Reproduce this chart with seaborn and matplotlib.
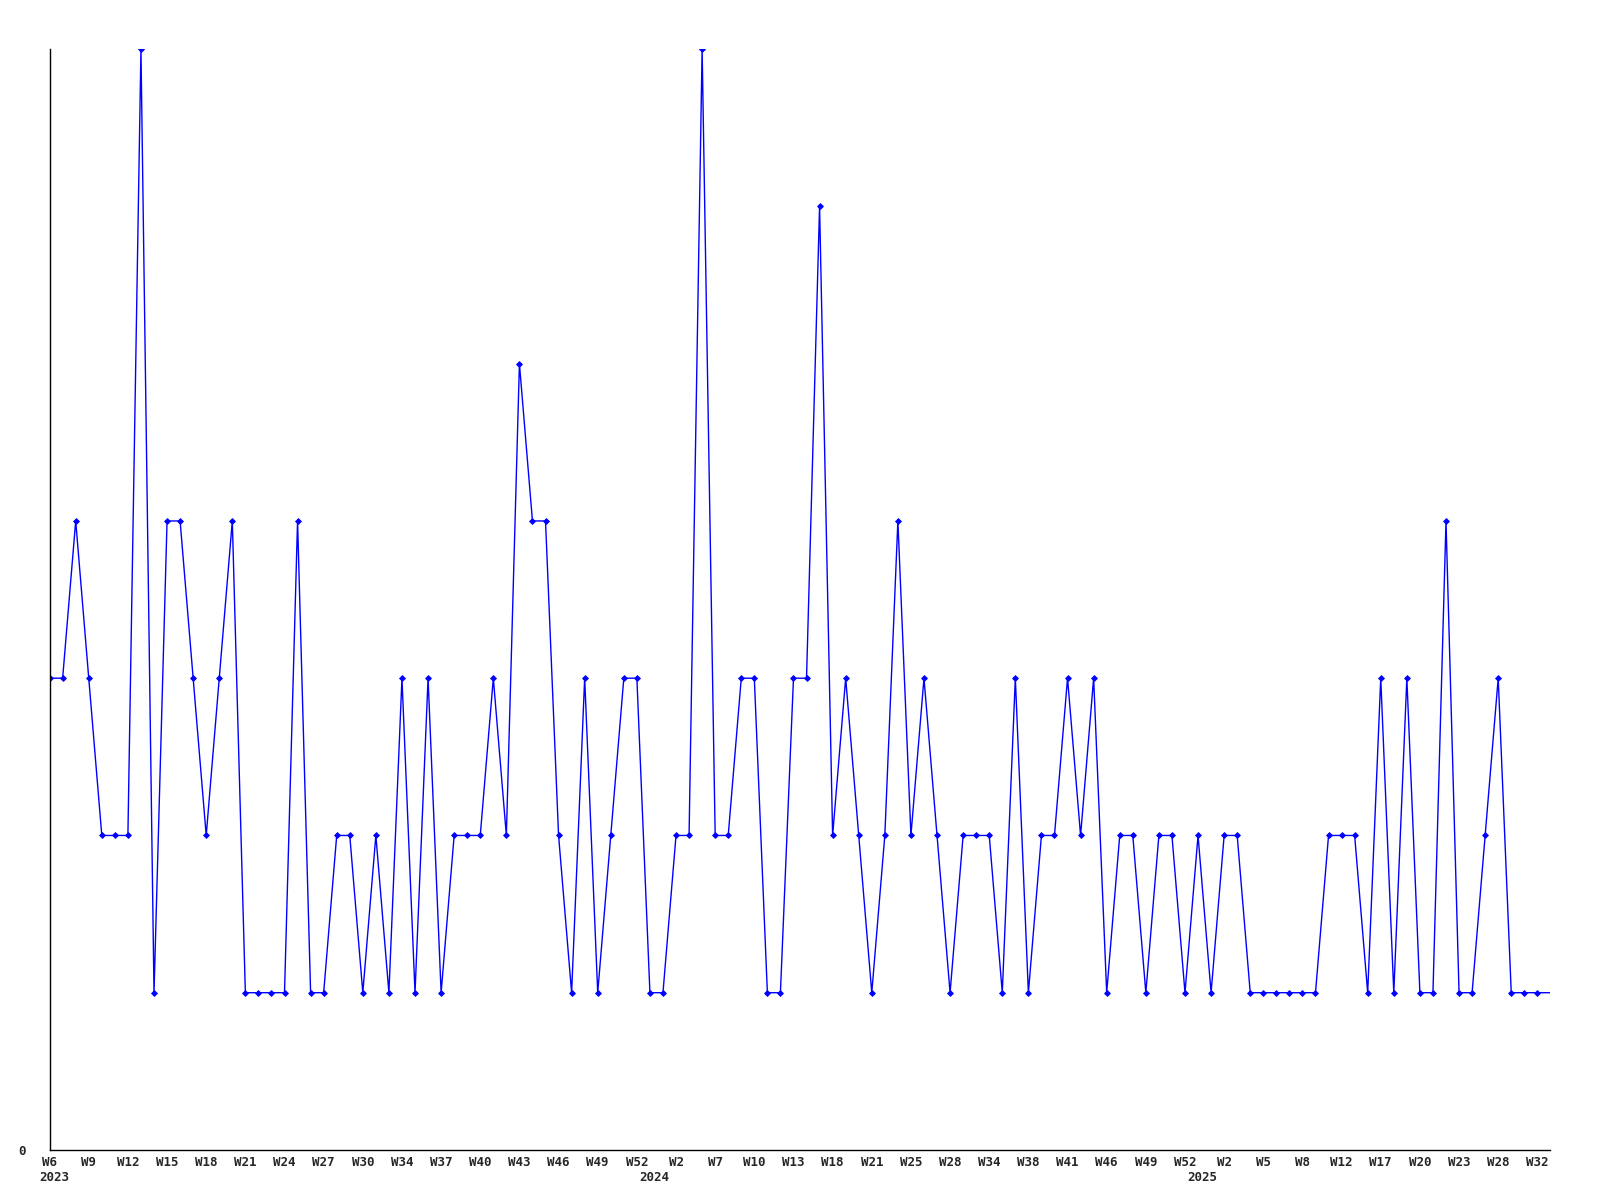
import pandas as pd
import matplotlib.pyplot as plt
import seaborn as sns

# --- DATA ---
VALUES = [
    3, 3, 4, 3, 2, 2, 2, 7, 1, 4, 4, 3, 2, 3, 4, 1, 1, 1, 1, 4,
    1, 1, 2, 2, 1, 2, 1, 3, 1, 3, 1, 2, 2, 2, 3, 2, 5, 4, 4, 2,
    1, 3, 1, 2, 3, 3, 1, 1, 2, 2, 7, 2, 2, 3, 3, 1, 1, 3, 3, 6,
    2, 3, 2, 1, 2, 4, 2, 3, 2, 1, 2, 2, 2, 1, 3, 1, 2, 2, 3, 2,
    3, 1, 2, 2, 1, 2, 2, 1, 2, 1, 2, 2, 1, 1, 1, 1, 1, 1, 2, 2,
    2, 1, 3, 1, 3, 1, 1, 4, 1, 1, 2, 3, 1, 1, 1, 1,
]
WEEK_LABELS = [
    'W6', 'W9', 'W12', 'W15', 'W18', 'W21', 'W24', 'W27', 'W30', 'W34',
    'W37', 'W40', 'W43', 'W46', 'W49', 'W52', 'W2', 'W7', 'W10', 'W13',
    'W18', 'W21', 'W25', 'W28', 'W34', 'W38', 'W41', 'W46', 'W49', 'W52',
    'W2', 'W5', 'W8', 'W12', 'W17', 'W20', 'W23', 'W28', 'W32',
]
LABEL_STEP = 3
YEARS = ['2023', '2024', '2025']
YEAR_POS = [0, 46, 88]

FONT = ['DejaVu Sans Mono', 'DejaVu Sans']


def make_plot():
    sns.set_theme(style="white")
    plt.rcParams['font.family'] = FONT

    df = pd.DataFrame({'idx': range(len(VALUES)), 'value': VALUES})

    fig = plt.figure(figsize=(16, 12), dpi=100)
    ax = fig.add_axes([0.031, 0.0417, 0.938, 0.9173])

    sns.lineplot(
        data=df, x='idx', y='value', ax=ax,
        color='#0000ff', linewidth=1.0,
        marker='D', markersize=3, markeredgewidth=0.6,
        markeredgecolor='#0000ff', markerfacecolor='#0000ff',
        markevery=list(range(len(VALUES) - 1)),
    )

    ax.set_xlim(0, len(VALUES) - 1)
    ax.set_ylim(0, max(VALUES))

    ticks = list(range(0, LABEL_STEP * len(WEEK_LABELS), LABEL_STEP))
    ax.set_xticks(ticks)
    ax.set_xticklabels(WEEK_LABELS, fontsize=9, fontweight='bold')
    ax.set_yticks([0])
    ax.set_yticklabels(['0'], fontsize=9, fontweight='bold')
    ax.tick_params(axis='x', length=0, pad=4)
    ax.tick_params(axis='y', length=0, pad=17)
    ax.set_xlabel('')
    ax.set_ylabel('')

    # year labels on a second row under the week labels
    for year, pos in zip(YEARS, YEAR_POS):
        ax.annotate(year, xy=(pos, 0), xycoords=('data', 'axes fraction'),
                    xytext=(3, -15.5), textcoords='offset points',
                    ha='center', va='top', fontsize=9, fontweight='bold')

    sns.despine(ax=ax)
    for side in ['left', 'bottom']:
        ax.spines[side].set_color('black')
        ax.spines[side].set_linewidth(1.0)
    ax.grid(False)

    plt.savefig('out.png', dpi=100)
    plt.close()


if __name__ == "__main__":
    make_plot()
